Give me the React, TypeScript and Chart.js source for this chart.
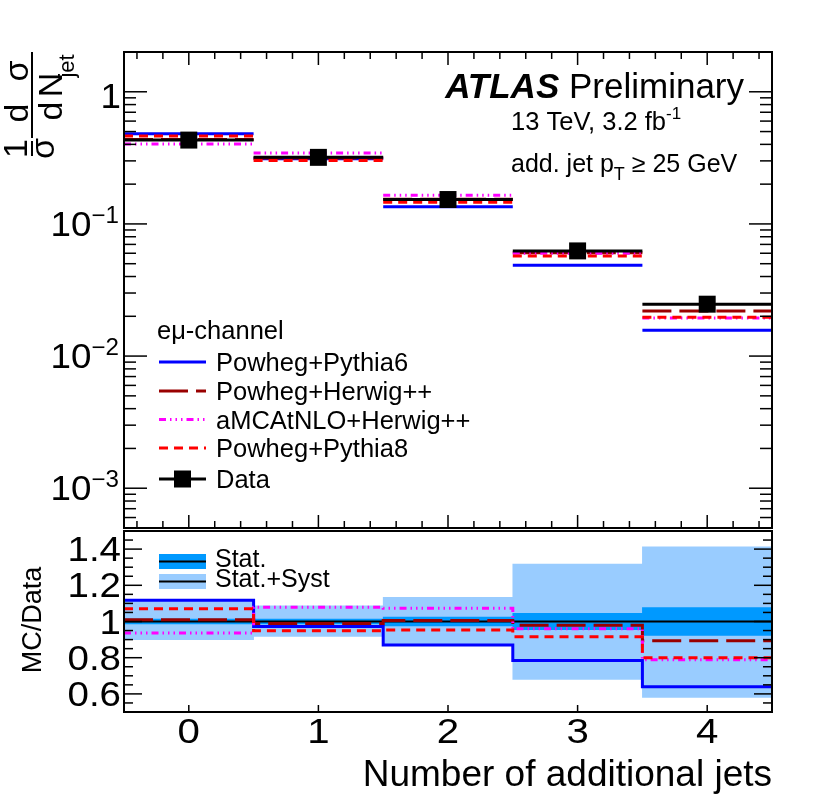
import React, { useEffect, useRef } from 'react';
import { Chart, registerables } from 'chart.js';

Chart.register(...registerables);

const FONT = '"Liberation Sans", Arial, Helvetica, sans-serif';

// bins: number of additional jets
const nJets = [0, 1, 2, 3, 4];
const xTickLabels = ['0', '1', '2', '3', '4'];

// upper panel: 1/sigma dsigma/dNjet
const dataXsec = [0.431, 0.319, 0.153, 0.0625, 0.0247];
const powhegPythia6 = [0.482, 0.311, 0.135, 0.0487, 0.0157];
const powhegHerwig = [0.435, 0.316, 0.154, 0.0605, 0.0219];
const amcatnloHerwig = [0.403, 0.344, 0.165, 0.06, 0.0194];
const powhegPythia8 = [0.463, 0.302, 0.146, 0.0573, 0.0197];
const logTickValues = [1e-3, 1e-2, 1e-1, 1];
const logTickExponents = ['\u22123', '\u22122', '\u22121', ''];

// lower panel: MC/Data
const ratioPythia6 = [1.118, 0.972, 0.87, 0.784, 0.64];
const ratioHerwig = [1.01, 0.989, 1.005, 0.979, 0.894];
const ratioAmcatnlo = [0.936, 1.079, 1.073, 0.96, 0.789];
const ratioPythia8 = [1.071, 0.949, 0.953, 0.916, 0.8];
const statErr = [0.013, 0.013, 0.025, 0.045, 0.077];
const systLow = [0.9, 0.918, 0.875, 0.68, 0.58];
const systHigh = [1.118, 1.087, 1.133, 1.317, 1.413];
const ratioTickValues = [0.6, 0.8, 1, 1.2, 1.4];
const ratioTickLabels = ['0.6', '0.8', '1', '1.2', '1.4'];

const generators = [
  { label: 'Powheg+Pythia6', color: '#0000ff', dash: [] as number[], top: powhegPythia6, ratio: ratioPythia6 },
  { label: 'Powheg+Herwig++', color: '#990000', dash: [29, 8], top: powhegHerwig, ratio: ratioHerwig },
  { label: 'aMCAtNLO+Herwig++', color: '#ff00ff', dash: [7, 4, 1.5, 4, 1.5, 4, 1.5, 4], top: amcatnloHerwig, ratio: ratioAmcatnlo },
  { label: 'Powheg+Pythia8', color: '#ff0000', dash: [9, 6], top: powhegPythia8, ratio: ratioPythia8 },
];

const STAT_COLOR = '#0099ff';
const SYST_COLOR = '#99ccff';

// one horizontal piece per bin, broken between bins
const segments = (vals: number[]) =>
  vals.flatMap((v, i) => [
    { x: nJets[i] - 0.5, y: v },
    { x: nJets[i] + 0.5, y: v },
    { x: nJets[i] + 0.5, y: null },
  ]);

// histogram outline, joined between bins
const steps = (vals: number[]) =>
  vals.flatMap((v, i) => [
    { x: nJets[i] - 0.5, y: v },
    { x: nJets[i] + 0.5, y: v },
  ]);

type Run = { t: string; size?: number; dy?: number; font?: string };

function drawRuns(
  ctx: CanvasRenderingContext2D,
  x: number,
  y: number,
  runs: Run[],
  align: 'left' | 'right' | 'center' = 'left',
  sx = 1,
) {
  const fonts = runs.map((r) => r.font ?? `${r.size}px ${FONT}`);
  const widths = runs.map((r, i) => {
    ctx.font = fonts[i];
    return ctx.measureText(r.t).width * sx;
  });
  const total = widths.reduce((s, w) => s + w, 0);
  let cx = align === 'left' ? x : align === 'right' ? x - total : x - total / 2;
  ctx.textAlign = 'left';
  ctx.textBaseline = 'alphabetic';
  runs.forEach((r, i) => {
    ctx.save();
    ctx.font = fonts[i];
    ctx.translate(cx, y + (r.dy ?? 0));
    ctx.scale(sx, 1);
    ctx.fillText(r.t, 0, 0);
    ctx.restore();
    cx += widths[i];
  });
}

function line(ctx: CanvasRenderingContext2D, x1: number, y1: number, x2: number, y2: number) {
  ctx.beginPath();
  ctx.moveTo(x1, y1);
  ctx.lineTo(x2, y2);
  ctx.stroke();
}

const topDecor = {
  id: 'topDecor',
  afterDraw(chart: any) {
    const { ctx, chartArea: a } = chart;
    const xs = chart.scales.x;
    const ys = chart.scales.y;
    ctx.save();
    ctx.strokeStyle = '#000';
    ctx.fillStyle = '#000';
    ctx.lineWidth = 1.5;

    // x ticks on top and bottom edges
    for (let k = -2; k <= 22; k++) {
      const px = xs.getPixelForValue(k * 0.2);
      const len = k % 5 === 0 ? 13 : 7;
      line(ctx, px, a.top, px, a.top + len);
      line(ctx, px, a.bottom, px, a.bottom - len);
    }
    // log y ticks on both sides
    for (let e = -4; e <= 0; e++) {
      for (let m = 1; m <= 9; m++) {
        const v = m * Math.pow(10, e);
        if (v <= ys.min || v >= ys.max) continue;
        const py = ys.getPixelForValue(v);
        const len = m === 1 ? 23 : 12;
        line(ctx, a.left, py, a.left + len, py);
        line(ctx, a.right, py, a.right - len, py);
      }
    }
    ctx.lineWidth = 2;
    ctx.strokeRect(a.left, a.top, a.right - a.left, a.bottom - a.top);

    // y tick labels
    logTickValues.forEach((v, i) => {
      const py = ys.getPixelForValue(v);
      const exp = logTickExponents[i];
      if (exp) {
        drawRuns(ctx, 119, py + 12, [{ t: '10', size: 35 }, { t: exp, size: 23, dy: -13 }], 'right', 1.05);
      } else {
        drawRuns(ctx, 121, py + 16, [{ t: '1', size: 35 }], 'right', 1.05);
      }
    });

    // y title: 1/sigma dsigma/dN_jet, rotated
    ctx.save();
    ctx.translate(32, 157);
    ctx.rotate(-Math.PI / 2);
    ctx.lineWidth = 2;
    line(ctx, 1, 0, 16, 0);
    line(ctx, 19, 0, 105, 0);
    ctx.textAlign = 'center';
    ctx.textBaseline = 'alphabetic';
    ctx.font = `34px ${FONT}`;
    ctx.fillText('1', 8.5, -5);
    ctx.fillText('\u03c3', 8.5, 22);
    ctx.fillText('d', 44, -4);
    ctx.fillText('\u03c3', 86, -4);
    ctx.fillText('d', 46, 30);
    ctx.fillText('N', 72, 30);
    ctx.font = `22px ${FONT}`;
    ctx.fillText('jet', 91, 42);
    ctx.restore();

    // labels
    drawRuns(ctx, 744, 98, [
      { t: 'ATLAS', font: `italic bold 35px ${FONT}` },
      { t: ' Preliminary', size: 35 },
    ], 'right');
    drawRuns(ctx, 511, 130, [{ t: '13 TeV, 3.2 fb', size: 25.5 }, { t: '-1', size: 17, dy: -11 }]);
    drawRuns(ctx, 511, 172, [
      { t: 'add. jet p', size: 25 },
      { t: 'T', size: 18, dy: 8 },
      { t: ' \u2265 25 GeV', size: 25 },
    ]);

    // legend
    drawRuns(ctx, 157, 339, [{ t: 'e\u03bc-channel', size: 25.5 }]);
    const rows = [362, 391, 419.5, 448];
    generators.forEach((g, i) => {
      ctx.save();
      ctx.strokeStyle = g.color;
      ctx.lineWidth = 3;
      ctx.setLineDash(g.dash);
      line(ctx, 159, rows[i], 206, rows[i]);
      ctx.restore();
      drawRuns(ctx, 216, rows[i] + 9, [{ t: g.label, size: 25.5 }]);
    });
    ctx.lineWidth = 3;
    line(ctx, 159, 479, 206, 479);
    ctx.fillRect(174, 470.5, 17, 17);
    drawRuns(ctx, 216, 488, [{ t: 'Data', size: 25.5 }]);
    ctx.restore();
  },
};

const OFFSET = 520; // top of the lower canvas on the page

const bottomDecor = {
  id: 'bottomDecor',
  afterDraw(chart: any) {
    const { ctx, chartArea: a } = chart;
    const xs = chart.scales.x;
    const ys = chart.scales.y;
    ctx.save();
    ctx.strokeStyle = '#000';
    ctx.fillStyle = '#000';
    ctx.lineWidth = 1.5;
    for (let k = 11; k <= 29; k++) {
      const py = ys.getPixelForValue(k * 0.05);
      const len = k % 4 === 0 ? 18 : 9;
      line(ctx, a.left, py, a.left + len, py);
      line(ctx, a.right, py, a.right - len, py);
    }
    nJets.forEach((n) => {
      const px = xs.getPixelForValue(n);
      line(ctx, px, a.bottom, px, a.bottom - 7);
    });
    ctx.lineWidth = 2;
    ctx.strokeRect(a.left, a.top, a.right - a.left, a.bottom - a.top);

    ratioTickValues.forEach((v, i) => {
      drawRuns(ctx, 121, ys.getPixelForValue(v) + 12, [{ t: ratioTickLabels[i], size: 35 }], 'right', 1.1);
    });
    nJets.forEach((n, i) => {
      drawRuns(ctx, xs.getPixelForValue(n), 743 - OFFSET, [{ t: xTickLabels[i], size: 35 }], 'center', 1.15);
    });
    drawRuns(ctx, 772, 786 - OFFSET, [{ t: 'Number of additional jets', size: 37 }], 'right');

    ctx.save();
    ctx.translate(41, 620 - OFFSET);
    ctx.rotate(-Math.PI / 2);
    drawRuns(ctx, 0, 0, [{ t: 'MC/Data', size: 27 }], 'center');
    ctx.restore();

    // band legend
    const entries = [
      { label: 'Stat.', color: STAT_COLOR, y0: 554, y1: 569, base: 567 },
      { label: 'Stat.+Syst', color: SYST_COLOR, y0: 574, y1: 589, base: 587 },
    ];
    entries.forEach((en) => {
      ctx.fillStyle = en.color;
      ctx.fillRect(159, en.y0 - OFFSET, 47, en.y1 - en.y0);
      ctx.lineWidth = 2;
      line(ctx, 159, (en.y0 + en.y1) / 2 - OFFSET, 206, (en.y0 + en.y1) / 2 - OFFSET);
      ctx.fillStyle = '#000';
      drawRuns(ctx, 215, en.base - OFFSET, [{ t: en.label, size: 25 }]);
    });
    ctx.restore();
  },
};

export default function App() {
  const topRef = useRef<HTMLCanvasElement>(null);
  const bottomRef = useRef<HTMLCanvasElement>(null);

  useEffect(() => {
    if (!topRef.current || !bottomRef.current) return;

    const topChart = new Chart(topRef.current, {
      type: 'line',
      data: {
        datasets: [
          {
            label: 'Data',
            data: nJets.map((x, i) => ({ x, y: dataXsec[i] })),
            showLine: false,
            pointStyle: 'rect',
            pointRadius: 12,
            pointBackgroundColor: '#000',
            pointBorderWidth: 0,
            order: 0,
          },
          {
            label: 'Data bins',
            data: segments(dataXsec),
            borderColor: '#000',
            borderWidth: 3,
            pointRadius: 0,
            order: 1,
          },
          ...generators.map((g, i) => ({
            label: g.label,
            data: segments(g.top),
            borderColor: g.color,
            borderWidth: 3,
            borderDash: g.dash,
            pointRadius: 0,
            order: 5 - i,
          })),
        ] as any,
      },
      options: {
        responsive: false,
        animation: false,
        events: [],
        layout: { padding: { left: 124, right: 58, top: 52, bottom: 9 } },
        plugins: { legend: { display: false }, tooltip: { enabled: false }, title: { display: false } },
        elements: { line: { borderCapStyle: 'butt', tension: 0 } },
        scales: {
          x: { type: 'linear', min: -0.5, max: 4.5, display: false },
          y: { type: 'logarithmic', min: 5e-4, max: 2, display: false },
        },
      },
      plugins: [topDecor],
    });

    const bottomChart = new Chart(bottomRef.current, {
      type: 'line',
      data: {
        datasets: [
          {
            type: 'bar',
            label: 'Stat.+Syst',
            data: nJets.map((x, i) => ({ x, y: [systLow[i], systHigh[i]] })),
            backgroundColor: SYST_COLOR,
            borderWidth: 0,
            barPercentage: 1,
            categoryPercentage: 1,
            grouped: false,
            order: 10,
          },
          {
            type: 'bar',
            label: 'Stat.',
            data: nJets.map((x, i) => ({ x, y: [1 - statErr[i], 1 + statErr[i]] })),
            backgroundColor: STAT_COLOR,
            borderWidth: 0,
            barPercentage: 1,
            categoryPercentage: 1,
            grouped: false,
            order: 9,
          },
          {
            type: 'line',
            label: 'unity',
            data: [{ x: -0.5, y: 1 }, { x: 4.5, y: 1 }],
            borderColor: '#000',
            borderWidth: 2,
            pointRadius: 0,
            order: 8,
          },
          ...generators.map((g, i) => ({
            type: 'line',
            label: g.label,
            data: steps(g.ratio),
            borderColor: g.color,
            borderWidth: 3,
            borderDash: g.dash,
            pointRadius: 0,
            order: 7 - i,
          })),
        ] as any,
      },
      options: {
        responsive: false,
        animation: false,
        events: [],
        layout: { padding: { left: 124, right: 58, top: 11, bottom: 85 } },
        plugins: { legend: { display: false }, tooltip: { enabled: false }, title: { display: false } },
        elements: { line: { borderCapStyle: 'butt', tension: 0 } },
        scales: {
          x: {
            type: 'linear',
            min: -0.5,
            max: 4.5,
            offset: false,
            display: false,
            ticks: { stepSize: 1, includeBounds: false },
          },
          y: { type: 'linear', min: 0.5, max: 1.5, display: false },
        },
      },
      plugins: [bottomDecor],
    });

    return () => {
      topChart.destroy();
      bottomChart.destroy();
    };
  }, []);

  return (
    <div style={{ position: 'absolute', left: 0, top: 0, width: 830, height: 797, background: '#fff' }}>
      <canvas ref={topRef} width={830} height={540} style={{ position: 'absolute', left: 0, top: 0 }} />
      <canvas ref={bottomRef} width={830} height={277} style={{ position: 'absolute', left: 0, top: OFFSET }} />
    </div>
  );
}
